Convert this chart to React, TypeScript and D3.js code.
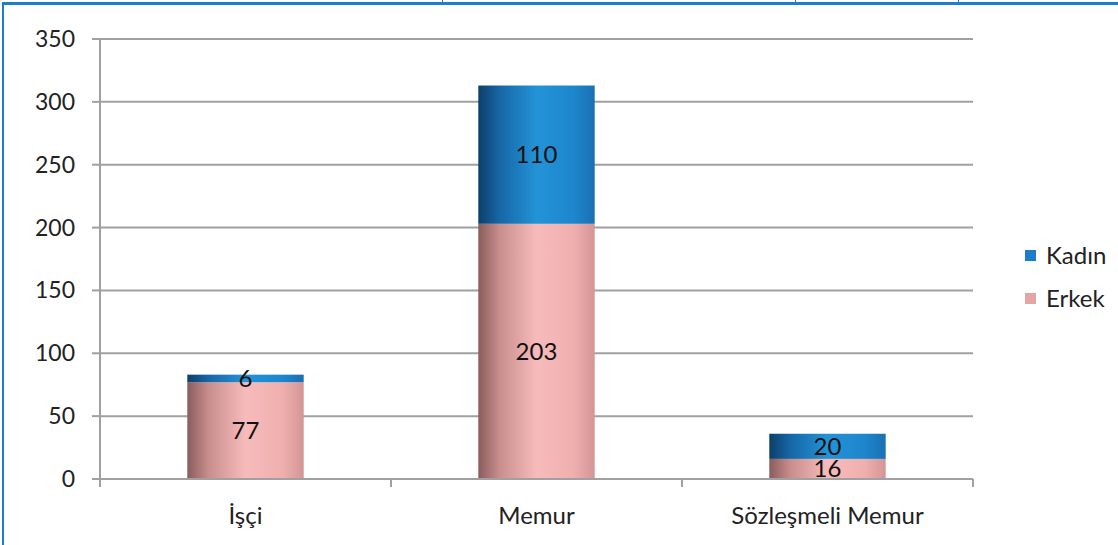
import React from 'react'
import * as d3 from 'd3'

const categories = ['İşçi', 'Memur', 'Sözleşmeli Memur']
const erkek = [77, 203, 16]
const kadin = [6, 110, 20]
const yTicks = [0, 50, 100, 150, 200, 250, 300, 350]
const seriesNames = ['Kadın', 'Erkek']

const W = 1118
const H = 545
const FONT = 'Lato, "Open Sans", sans-serif'

export default function App() {
  const margin = { left: 100, right: 145, top: 39, bottom: 66 }
  const x = d3
    .scaleBand<string>()
    .domain(categories)
    .range([margin.left, W - margin.right])
    .padding(0)
  const y = d3
    .scaleLinear()
    .domain([0, 350])
    .range([H - margin.bottom, margin.top])

  const barW = x.bandwidth() * 0.4
  const x0 = margin.left
  const x1 = W - margin.right
  const base = y(0)
  const boundaries = [...categories.map((c) => x(c)!), x1]

  return (
    <svg
      width={W}
      height={H}
      style={{ position: 'absolute', left: 0, top: 0 }}
      fontFamily={FONT}
    >
      <defs>
        <linearGradient id="pink" x1="0" x2="1" y1="0" y2="0">
          <stop offset="0" stopColor="#8a5c5c" />
          <stop offset="0.18" stopColor="#c88d8d" />
          <stop offset="0.5" stopColor="#f7bbbb" />
          <stop offset="0.82" stopColor="#f0afaf" />
          <stop offset="1" stopColor="#d29595" />
        </linearGradient>
        <linearGradient id="blue" x1="0" x2="1" y1="0" y2="0">
          <stop offset="0" stopColor="#0c3f68" />
          <stop offset="0.18" stopColor="#1766a6" />
          <stop offset="0.5" stopColor="#2393d7" />
          <stop offset="0.82" stopColor="#1d86cc" />
          <stop offset="1" stopColor="#1a70b2" />
        </linearGradient>
      </defs>
      <rect width={W} height={H} fill="#fff" />

      {/* frame */}
      <rect x={2} y={2} width={W - 2} height={3} fill="#1a80c8" />
      <rect x={2} y={2} width={2} height={H - 2} fill="#1a80c8" />
      {[442, 795, 958].map((fx) => (
        <rect key={fx} x={fx} y={0} width={1} height={3} fill="#1a80c8" />
      ))}

      {/* gridlines */}
      {yTicks.map((t) => (
        <g key={t}>
          {t > 0 && (
            <line x1={x0} x2={x1} y1={y(t)} y2={y(t)} stroke="#a0a0a0" strokeWidth={2} />
          )}
          <line x1={x0 - 8} x2={x0} y1={y(t)} y2={y(t)} stroke="#a0a0a0" strokeWidth={2} />
          <text
            x={x0 - 25}
            y={y(t)}
            dy="0.35em"
            textAnchor="end"
            fontSize={23}
            fill="#222"
          >
            {t}
          </text>
        </g>
      ))}

      {/* bars */}
      {categories.map((c, i) => {
        const bx = x(c)! + (x.bandwidth() - barW) / 2
        const cx = x(c)! + x.bandwidth() / 2
        const e = erkek[i]
        const k = kadin[i]
        return (
          <g key={c}>
            <rect x={bx} y={y(e)} width={barW} height={base - y(e)} fill="url(#pink)" />
            <rect x={bx} y={y(e + k)} width={barW} height={y(e) - y(e + k)} fill="url(#blue)" />
            <text x={cx} y={(base + y(e)) / 2} dy="0.35em" textAnchor="middle" fontSize={24} fill="#111">
              {e}
            </text>
            <text x={cx} y={(y(e) + y(e + k)) / 2} dy="0.35em" textAnchor="middle" fontSize={24} fill="#111">
              {k}
            </text>
            <text x={cx} y={516} dy="0.35em" textAnchor="middle" fontSize={24} fill="#222">
              {c}
            </text>
          </g>
        )
      })}

      {/* axes */}
      <line x1={x0} x2={x0} y1={y(350) - 1} y2={base + 1} stroke="#a0a0a0" strokeWidth={2} />
      <line x1={x0} x2={x1} y1={base} y2={base} stroke="#a0a0a0" strokeWidth={2} />
      {boundaries.map((bxv, i) => (
        <line key={i} x1={bxv} x2={bxv} y1={base} y2={base + 8} stroke="#a0a0a0" strokeWidth={2} />
      ))}

      {/* legend */}
      {seriesNames.map((s, i) => (
        <g key={s} transform={`translate(1025, ${250 + i * 43})`}>
          <rect width={11} height={11} fill={i === 0 ? '#1a7ec8' : '#e6a5a5'} />
          <text x={21} y={6} dy="0.35em" fontSize={24} fill="#222">
            {s}
          </text>
        </g>
      ))}
    </svg>
  )
}
